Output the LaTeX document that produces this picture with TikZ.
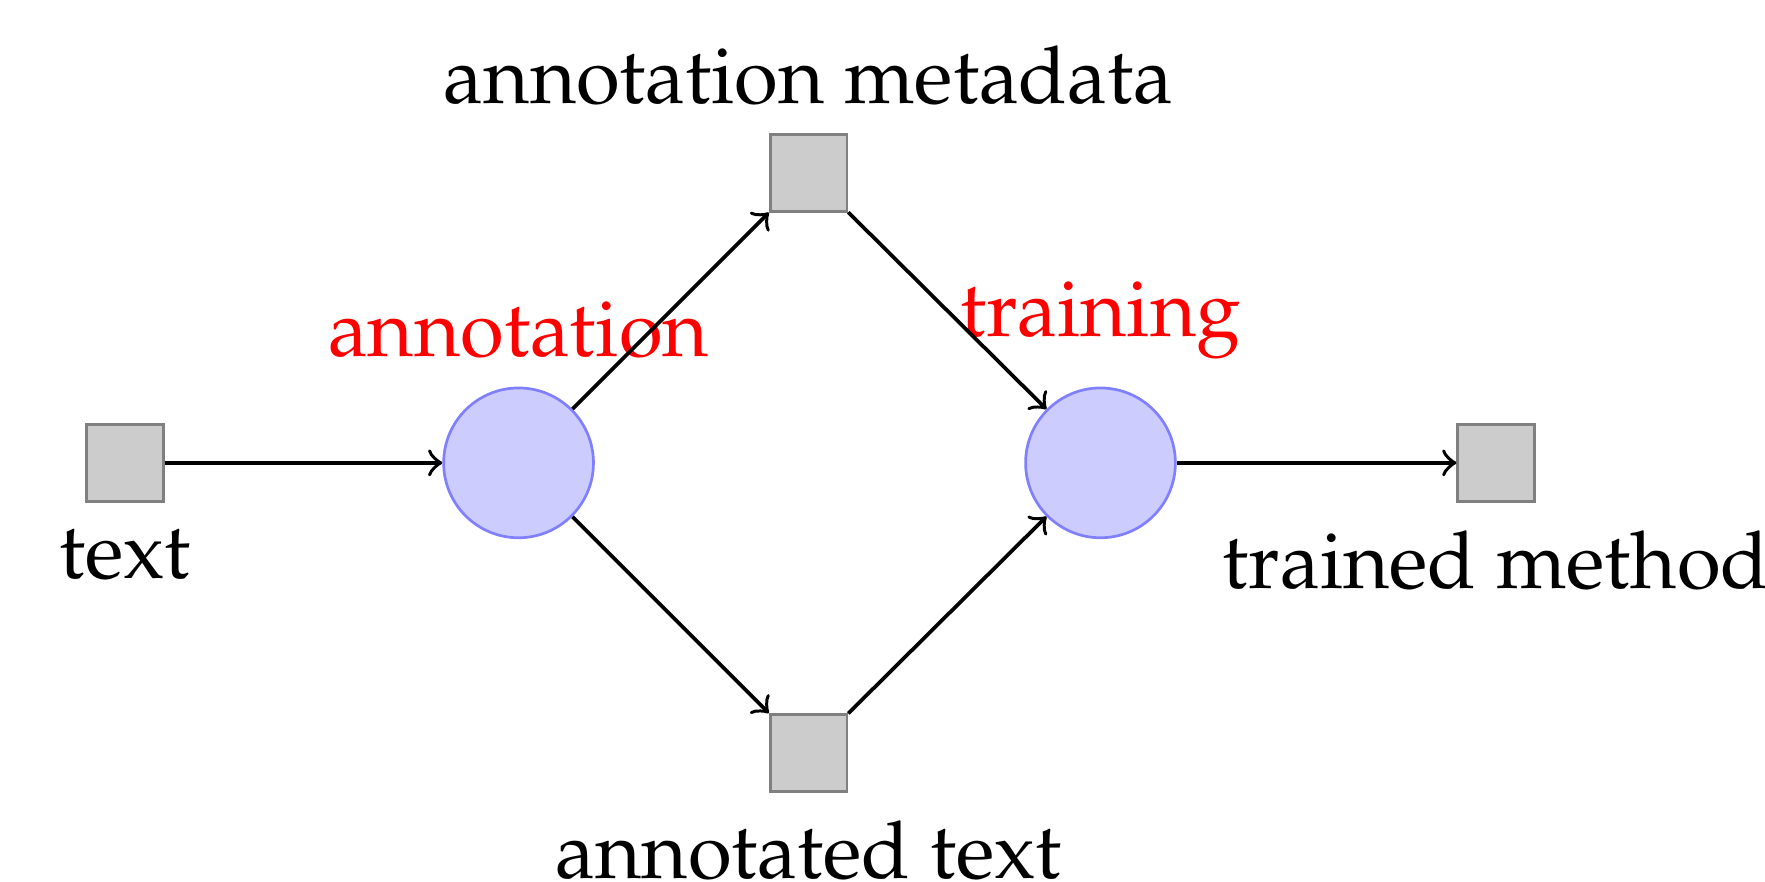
\documentclass[tikz,border=0pt,12pt]{standalone}
\usepackage[T1]{fontenc}
\usepackage{mathpazo}
\usepackage{tikz}
\usetikzlibrary{positioning, arrows.meta}

\begin{document}
\fontsize{11.8pt}{14pt}\selectfont
\begin{tikzpicture}[>=to, on grid,
  data/.style={draw=black!50, fill=black!20, minimum size=0.4cm, inner sep=0pt},
  proc/.style={circle, draw=blue!50, fill=blue!20, minimum size=0.78cm, inner sep=0pt},
  step label/.style={text=red},
  flow/.style={->, line width=0.55pt}]
  \useasboundingbox (-2.70,-2.18) rectangle (6.49,2.41);
  \node[proc, label={[step label]above:annotation}] (annot) {};
  \node[data, left=2.05cm of annot, label=below:text] (text) {};
  \node[data, above right=1.51cm and 1.51cm of annot, label=above:annotation metadata] (meta) {};
  \node[data, below right=1.51cm and 1.51cm of annot, label=below:annotated text] (annotated) {};
  \node[proc, right=3.03cm of annot, label={[step label]above:training}] (train) {};
  \node[data, right=2.06cm of train, label=below:trained method] (method) {};

  \draw[flow] (text) -- (annot);
  \draw[flow] (annot) -- (meta);
  \draw[flow] (annot) -- (annotated);
  \draw[flow] (meta) -- (train);
  \draw[flow] (annotated) -- (train);
  \draw[flow] (train) -- (method);
\end{tikzpicture}
\end{document}
